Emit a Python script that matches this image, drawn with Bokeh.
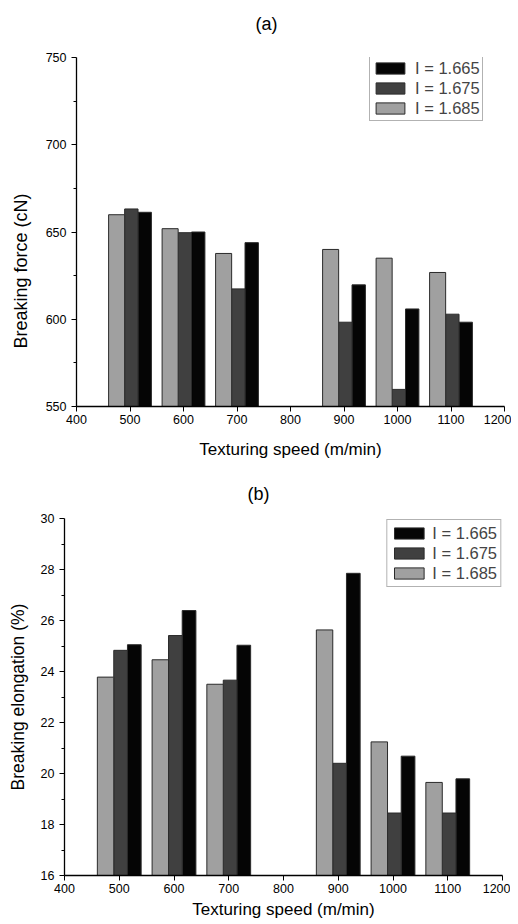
from bokeh.plotting import figure
from bokeh.models import ColumnDataSource, FixedTicker, Legend, LegendItem, Range1d, Title
from bokeh.transform import dodge
from bokeh.embed import file_html
from bokeh.resources import INLINE

# ---- data ----
speeds = [500, 600, 700, 900, 1000, 1100]
force_1665 = [661.3, 650.0, 643.9, 619.7, 605.9, 598.3]
force_1675 = [663.2, 649.6, 617.4, 598.3, 559.8, 602.9]
force_1685 = [659.9, 651.9, 637.7, 640.0, 635.0, 626.8]
elong_1665 = [25.05, 26.39, 25.03, 27.85, 20.68, 19.79]
elong_1675 = [24.83, 25.41, 23.66, 20.40, 18.45, 18.45]
elong_1685 = [23.78, 24.46, 23.50, 25.63, 21.24, 19.65]
series_labels = ["I = 1.665", "I = 1.675", "I = 1.685"]
x_ticks = [400, 500, 600, 700, 800, 900, 1000, 1100, 1200]
force_ticks = [550, 600, 650, 700, 750]
force_minor = [575, 625, 675, 725]
elong_ticks = [16, 18, 20, 22, 24, 26, 28, 30]
elong_minor = [17, 19, 21, 23, 25, 27, 29]

FONT = "Liberation Sans"
COLORS = {"I = 1.665": "#050505", "I = 1.675": "#404040", "I = 1.685": "#a0a0a0"}
# offset, width of each bar within a group (style)
BAR = {"I = 1.685": (-25, 30), "I = 1.675": (2.5, 25), "I = 1.665": (27.5, 25)}


def make_fig(yr, yt, ym, vals, frame, borders, xl_stand):
    p = figure(frame_width=frame[0], frame_height=frame[1],
               output_backend="svg", toolbar_location=None,
               x_range=Range1d(400, 1200), y_range=Range1d(*yr),
               min_border_left=borders[0], min_border_right=borders[1],
               min_border_top=borders[2], min_border_bottom=borders[3])
    p.title.visible = False
    p.outline_line_color = None
    p.xgrid.visible = False
    p.ygrid.visible = False
    p.background_fill_color = "white"
    p.border_fill_color = "white"

    src = ColumnDataSource(dict(x=speeds, a=vals[0], b=vals[1], c=vals[2]))
    rends = {}
    for key, col in zip(series_labels, ["a", "b", "c"]):
        off, wd = BAR[key]
        rends[key] = p.vbar(x=dodge("x", off), top=col, width=wd, bottom=yr[0], source=src,
                            fill_color=COLORS[key], line_color="#2a2a2a", line_width=1)

    p.xaxis.axis_label = "Texturing speed (m/min)"
    p.xaxis.ticker = FixedTicker(ticks=x_ticks)
    p.yaxis.ticker = FixedTicker(ticks=yt, minor_ticks=ym)
    for ax in (p.xaxis[0], p.yaxis[0]):
        ax.axis_line_width = 1.3
        ax.axis_line_color = "black"
        ax.major_tick_line_color = "black"
        ax.minor_tick_line_color = "black"
        ax.major_tick_in = 0
        ax.major_tick_out = 5
        ax.minor_tick_in = 0
        ax.minor_tick_out = 3
        ax.major_label_text_font = FONT
        ax.major_label_text_font_size = "12.5px"
        ax.major_label_text_color = "black"
        ax.axis_label_text_font = FONT
        ax.axis_label_text_font_size = "17px"
        ax.axis_label_text_font_style = "normal"
        ax.axis_label_text_color = "black"
    p.xaxis.major_label_standoff = 3
    p.yaxis.major_label_standoff = 5
    p.xaxis.axis_label_standoff = xl_stand
    p.xaxis.minor_tick_out = 0

    items = [LegendItem(label=k, renderers=[rends[k]]) for k in series_labels]
    return p, items


def add_title(p, text, offset, standoff, spacer=None):
    if spacer:
        p.add_layout(Title(text=" ", text_font=FONT, text_font_size=spacer, standoff=0), "above")
    p.add_layout(Title(text=text, align="left", offset=offset, standoff=standoff,
                       text_font=FONT, text_font_size="18px", text_font_style="normal",
                       text_color="black"), "above")


def add_ylabel(p, text, offset, standoff, valign):
    p.add_layout(Title(text=text, align="left", offset=offset, standoff=standoff,
                       vertical_align=valign,
                       text_font=FONT, text_font_size="18px", text_font_style="normal",
                       text_color="black"), "left")


pa, items_a = make_fig((550, 750), force_ticks, force_minor,
                       [force_1665, force_1675, force_1685],
                       (428, 349), (75, 7, 57, 60), 13)
pb, items_b = make_fig((16, 30), elong_ticks, elong_minor,
                       [elong_1665, elong_1675, elong_1685],
                       (438, 357), (64, 8, 51, 46), 4)

add_title(pa, "(a)", 179, 10, spacer="16px")
add_title(pb, "(b)", 183, 30)
add_ylabel(pa, "Breaking force (cN)", 58, 20, "top")
pb.yaxis.axis_label = "Breaking elongation (%)"
pb.yaxis.axis_label_standoff = 10
pb.yaxis.axis_label_text_font_size = "17.5px"

for p, items, loc, pad, gw, ls in ((pa, items_a, (293, 285), 2, 36, 7),
                                   (pb, items_b, "top_right", 3, 37, 5)):
    lg = Legend(items=items, location=loc, margin=0 if loc != "top_right" else 1,
                glyph_width=gw, glyph_height=14, label_height=20, spacing=0,
                padding=pad, label_standoff=ls,
                label_text_font=FONT, label_text_font_size="16.5px",
                border_line_color="#666666", border_line_width=1,
                background_fill_alpha=1.0)
    p.add_layout(lg, "center")

open("out.html", "w").write(file_html([pa, pb], INLINE))
